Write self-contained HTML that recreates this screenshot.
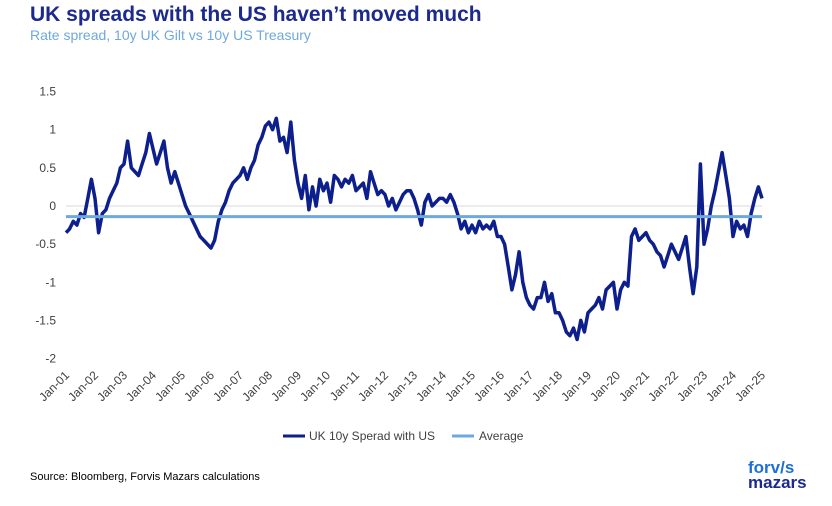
<!DOCTYPE html>
<html><head><meta charset="utf-8"><style>
body{margin:0;width:832px;height:506px;background:#fff;font-family:"Liberation Sans",sans-serif;overflow:hidden;position:relative}
.t{position:absolute;left:30px;top:3px;font-size:21px;font-weight:bold;color:#1b2a8c}
.s{position:absolute;left:30px;top:27px;font-size:14px;color:#6fa8dc}
.src{position:absolute;left:30px;top:471px;font-size:11px;color:#000}
.logo{position:absolute;left:748px;top:460px;font-weight:bold;line-height:15px;font-size:17px}
</style></head><body>
<div class="t">UK spreads with the US haven’t moved much</div>
<div class="s">Rate spread, 10y UK Gilt vs 10y US Treasury</div>
<svg id="c" width="832" height="506" style="position:absolute;left:0;top:0"></svg>
<div class="src">Source: Bloomberg, Forvis Mazars calculations</div>
<div class="logo"><span style="color:#1e6fd9">forv/s</span><br><span style="color:#1b2a8c">mazars</span></div>
<script>
const yTicks=[1.5,1,0.5,0,-0.5,-1,-1.5,-2];
const yearLabels=["Jan-01","Jan-02","Jan-03","Jan-04","Jan-05","Jan-06","Jan-07","Jan-08","Jan-09","Jan-10","Jan-11","Jan-12","Jan-13","Jan-14","Jan-15","Jan-16","Jan-17","Jan-18","Jan-19","Jan-20","Jan-21","Jan-22","Jan-23","Jan-24","Jan-25"];
const spread=[
-0.35,-0.3,-0.2,-0.25,-0.1,-0.15,0.1,0.35,
0.1,-0.35,-0.1,-0.05,0.1,0.2,0.3,0.5,
0.55,0.85,0.5,0.45,0.4,0.55,0.7,0.95,
0.75,0.55,0.7,0.85,0.5,0.3,0.45,0.3,
0.15,0.0,-0.1,-0.2,-0.3,-0.4,-0.45,-0.5,
-0.55,-0.45,-0.2,-0.05,0.05,0.2,0.3,0.35,
0.4,0.5,0.35,0.5,0.6,0.8,0.9,1.05,
1.1,1.0,1.15,0.85,0.9,0.7,1.1,0.6,
0.3,0.1,0.4,-0.05,0.25,0.0,0.35,0.2,
0.3,0.05,0.4,0.35,0.25,0.35,0.3,0.4,
0.2,0.25,0.3,0.1,0.45,0.3,0.15,0.2,
0.15,0.0,0.1,-0.05,0.05,0.15,0.2,0.2,
0.1,-0.05,-0.25,0.05,0.15,0.0,0.05,0.1,
0.1,0.05,0.15,0.05,-0.1,-0.3,-0.2,-0.35,
-0.25,-0.35,-0.2,-0.3,-0.25,-0.3,-0.2,-0.4,
-0.4,-0.5,-0.8,-1.1,-0.9,-0.6,-1.0,-1.2,
-1.3,-1.35,-1.2,-1.2,-1.0,-1.25,-1.15,-1.4,
-1.4,-1.5,-1.65,-1.7,-1.6,-1.75,-1.5,-1.65,
-1.4,-1.35,-1.3,-1.2,-1.35,-1.1,-1.05,-1.0,
-1.35,-1.1,-1.0,-1.05,-0.4,-0.3,-0.45,-0.4,
-0.35,-0.45,-0.5,-0.6,-0.65,-0.8,-0.65,-0.5,
-0.6,-0.7,-0.55,-0.4,-0.8,-1.15,-0.8,0.55,
-0.5,-0.3,0.0,0.2,0.45,0.7,0.4,0.1,
-0.4,-0.2,-0.3,-0.25,-0.4,-0.1,0.1,0.25,
0.1];
const average=[-0.14];
const perYear=8;
const NS="http://www.w3.org/2000/svg",svg=document.getElementById('c');
const x=t=>66+t*29, y=v=>206-v*76.3;
function mk(tag,attrs){const e=document.createElementNS(NS,tag);for(const k in attrs)e.setAttribute(k,attrs[k]);svg.appendChild(e);return e;}
let e=mk('line',{x1:66,x2:762,y1:y(0),y2:y(0),stroke:'#d9d9d9','stroke-width':1});


yTicks.forEach(v=>{const t=mk('text',{x:56,y:y(v)+4,'text-anchor':'end','font-size':12,fill:'#404040','font-family':'Liberation Sans'});t.textContent=v;

});
yearLabels.forEach((l,i)=>{const px=x(i),py=376;const t=mk('text',{x:px+4,y:py,'text-anchor':'end','font-size':12,fill:'#404040','font-family':'Liberation Sans',transform:`rotate(-45 ${px+4} ${py})`});t.textContent=l;

});
const pts=spread.map((v,i)=>x(i/perYear).toFixed(1)+','+y(v).toFixed(1)).join(' ');
e=mk('polyline',{points:pts,fill:'none',stroke:'#0d1f8c','stroke-width':3.5,'stroke-linejoin':'round'});


e=mk('line',{x1:66,x2:762,y1:y(average[0]),y2:y(average[0]),stroke:'#6fa8dc','stroke-width':3});


e=mk('line',{x1:283,x2:305,y1:436,y2:436,stroke:'#0d1f8c','stroke-width':3});


e=mk('text',{x:309,y:440,'font-size':12,fill:'#404040','font-family':'Liberation Sans'});e.textContent='UK 10y Sperad with US';


e=mk('line',{x1:452,x2:474,y1:436,y2:436,stroke:'#6fa8dc','stroke-width':3});


e=mk('text',{x:479,y:440,'font-size':12,fill:'#404040','font-family':'Liberation Sans'});e.textContent='Average';


</script>
</body></html>
